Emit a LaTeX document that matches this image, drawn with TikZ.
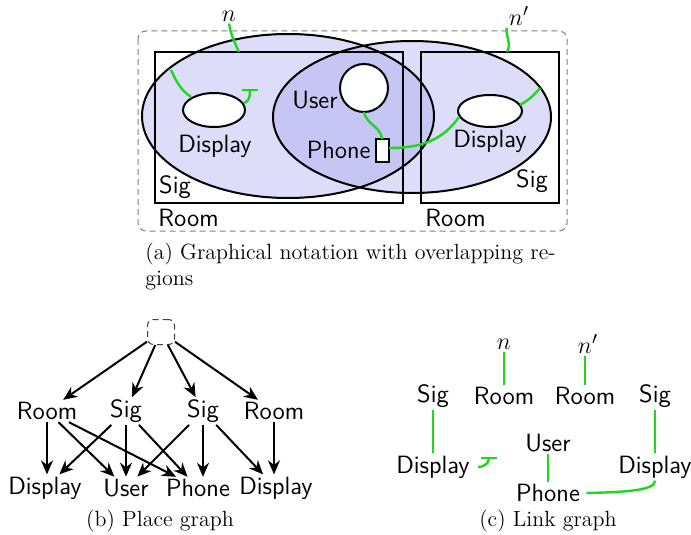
\documentclass[tikz,border=0pt]{standalone}
\usepackage{amsmath}
\usepackage{amsfonts}
\usepackage{tikz}
\usetikzlibrary{arrows.meta}

\definecolor{linkgreen}{RGB}{30,215,30}
\definecolor{sigfill}{RGB}{221,221,250}
\definecolor{overlapfill}{RGB}{198,198,244}

\tikzset{
	lbl/.style={font=\fontsize{12.5}{14}\sffamily, inner sep=1pt},
	caption/.style={font=\fontsize{11}{13}\selectfont, inner sep=0pt},
	region/.style={draw=black, line width=1pt},
	hole/.style={draw=black, line width=1pt, fill=white},
	lnk/.style={draw=linkgreen, line width=1.2pt},
	pg/.style={-{Stealth[length=7pt,width=6pt]}, line width=1pt},
}

\begin{document}
\begin{tikzpicture}[x=0.5pt, y=-0.5pt]
	\useasboundingbox (0,0) rectangle (691,535);

	% (a) regions
	\fill[sigfill] (288,116) ellipse [x radius=146, y radius=82];
	\fill[sigfill] (412,117) ellipse [x radius=139, y radius=76];
	\begin{scope}
		\clip (288,116) ellipse [x radius=146, y radius=82];
		\fill[overlapfill] (412,117) ellipse [x radius=139, y radius=76];
	\end{scope}
	\draw[region] (155,52) rectangle (403,203);
	\draw[region] (421,52) rectangle (559,203);
	\draw[region] (288,116) ellipse [x radius=146, y radius=82];
	\draw[region] (412,117) ellipse [x radius=139, y radius=76];
	\draw[hole] (214,110) ellipse [x radius=31, y radius=17];
	\draw[hole] (490,111) ellipse [x radius=32, y radius=16];
	\draw[hole] (364,88) circle [radius=24];
	\draw[hole] (376,139) rectangle (389,162);
	\draw[gray, densely dashed, line width=0.5pt, rounded corners=4pt] (138,31) rectangle (567,231);

	\node[lbl] (na) at (229,16) {$n$};
	\node[lbl] (npa) at (519,16) {$n'$};
	\node[lbl] (dispalbl) at (215,146) {Display};
	\node[lbl] (dispblbl) at (490,141) {Display};
	\node[lbl] (userlbl) at (315,100) {User};
	\node[lbl, anchor=east] (phonelbl) at (373,150) {Phone};
	\node[lbl] (sigalbl) at (175,187) {Sig};
	\node[lbl] (sigblbl) at (532,181) {Sig};
	\node[lbl, anchor=west] (roomalbl) at (156,218) {Room};
	\node[lbl, anchor=west] (roomblbl) at (423,218) {Room};

	% (a) links
	\coordinate (nfoot) at (239,52);
	\coordinate (npfoot) at (507,52);
	\coordinate (sigaedge) at (171,70);
	\coordinate (dispaW) at (191,97);
	\coordinate (dispaE) at (244,103);
	\coordinate (idlea) at (250,90);
	\coordinate (userS) at (364,112);
	\coordinate (phoneN) at (382,139);
	\coordinate (phoneE) at (389,148);
	\coordinate (dispbW) at (459,117);
	\coordinate (dispbE) at (520,105);
	\coordinate (sigbedge) at (540,88);
	\draw[lnk] (na.south) to[out=-80,in=115] (nfoot);
	\draw[lnk] (npa.south west) to[out=-95,in=60] (npfoot);
	\draw[lnk] (sigaedge) to[out=-65,in=145] (dispaW);
	\draw[lnk] (dispaE) to[out=15,in=-90] (idlea);
	\draw[lnk] ([xshift=-4]idlea) -- ([xshift=4]idlea);
	\draw[lnk] (userS) to[out=-80,in=95] (phoneN);
	\draw[lnk] (phoneE) to[out=0,in=-125] (dispbW);
	\draw[lnk] (dispbE) to[out=30,in=-130] (sigbedge);

	\node[caption, anchor=north west, align=left] (capa) at (145,243)
		{(a) Graphical notation with overlapping re-\\gions};

	% (b) place graph
	\node[draw=darkgray, densely dashed, line width=0.5pt, rounded corners=3pt,
		minimum width=13.5pt, minimum height=12.5pt, inner sep=0pt] (root) at (161,332) {};
	\node[lbl] (rooma) at (47,411) {Room};
	\node[lbl] (siga) at (126,411) {Sig};
	\node[lbl] (sigb) at (203,411) {Sig};
	\node[lbl] (roomb) at (274,411) {Room};
	\node[lbl] (dispa) at (45,488) {Display};
	\node[lbl] (user) at (126,488) {User};
	\node[lbl] (phone) at (198,488) {Phone};
	\node[lbl] (dispb) at (276,488) {Display};
	\foreach \t in {rooma,siga,sigb,roomb}
		\draw[pg] (root) -- (\t);
	\draw[pg] (rooma.south) -- (rooma.south |- dispa.north);
	\foreach \t in {user,phone}
		\draw[pg] (rooma) -- (\t);
	\draw[pg] (siga.south) -- (siga.south |- user.north);
	\foreach \t in {dispa,phone}
		\draw[pg] (siga) -- (\t);
	\draw[pg] (sigb.south) -- (sigb.south |- phone.north);
	\foreach \t in {user,dispb}
		\draw[pg] (sigb) -- (\t);
	\draw[pg] (roomb.south) -- (roomb.south |- dispb.north);
	\node[caption] (capb) at (160,521) {(b) Place graph};

	% (c) link graph
	\node[lbl] (nc) at (504,344) {$n$};
	\node[lbl] (npc) at (588,344) {$n'$};
	\node[lbl] (sigc) at (433,396) {Sig};
	\node[lbl] (roomc) at (504,396) {Room};
	\node[lbl] (roomd) at (585,396) {Room};
	\node[lbl] (sigd) at (655,396) {Sig};
	\node[lbl] (userc) at (548,443) {User};
	\node[lbl] (dispc) at (433,467) {Display};
	\node[lbl] (dispd) at (655,467) {Display};
	\node[lbl] (phonec) at (548,493) {Phone};
	\coordinate (idlec) at (489,458);
	\draw[lnk] (nc) -- (roomc);
	\draw[lnk] (roomd.north) -- (roomd.north |- npc.south);
	\draw[lnk] (sigc) -- (dispc);
	\draw[lnk] (sigd) -- (dispd);
	\draw[lnk] (userc) -- (phonec);
	\draw[lnk] ([xshift=3]dispc.east) to[out=0,in=-90] (idlec);
	\draw[lnk] ([xshift=-4]idlec) -- ([xshift=4]idlec);
	\draw[lnk] ([xshift=2]phonec.east) .. controls (630,492) and (655,490) .. (dispd.south);
	\node[caption] (capc) at (548,521) {(c) Link graph};
\end{tikzpicture}
\end{document}
